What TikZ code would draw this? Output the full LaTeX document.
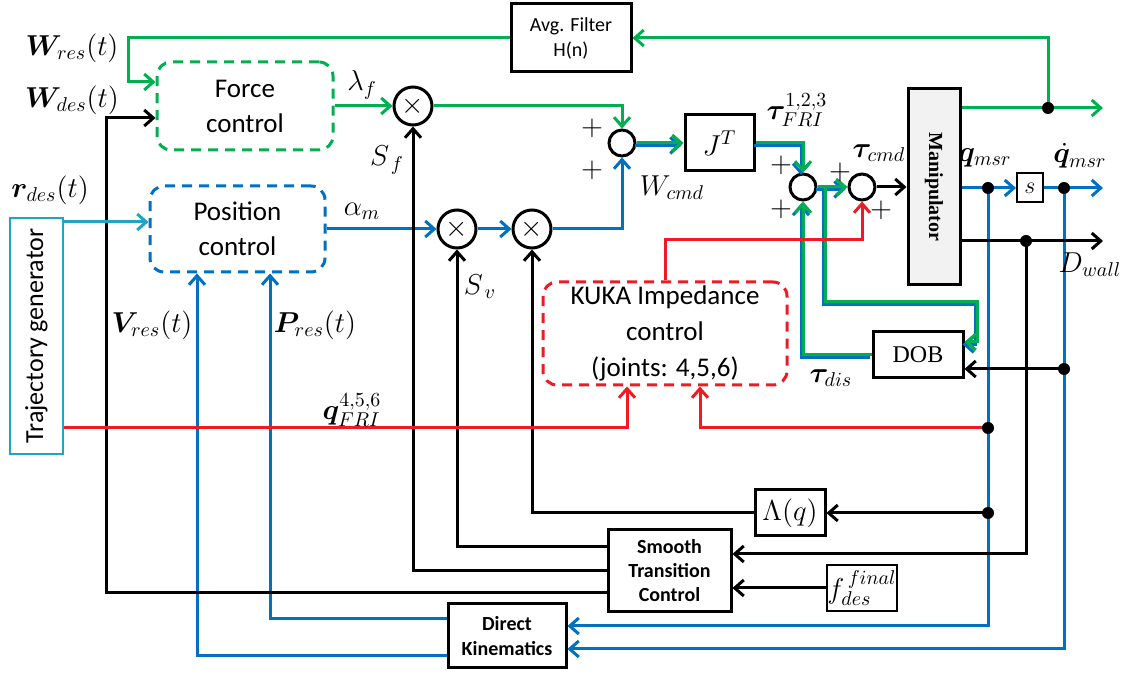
\documentclass[tikz,border=0pt]{standalone}
\usepackage{fontspec}
\setmainfont{Carlito}
\newfontfamily\tnr{Liberation Serif}
\usepackage{bm}
\usetikzlibrary{arrows.meta,calc}
\definecolor{cgreen}{RGB}{0,176,80}
\definecolor{cblue}{RGB}{0,112,192}
\definecolor{cred}{RGB}{237,28,36}
\definecolor{ccyan}{RGB}{30,165,200}
\definecolor{cgray}{RGB}{242,242,242}
\tikzset{
 arr/.style={-{Straight Barb[length=4.5pt,width=8pt]}},
 gline/.style={draw=cgreen,line width=1.5pt},
 bline/.style={draw=cblue,line width=1.5pt},
 rline/.style={draw=cred,line width=1.5pt},
 kline/.style={draw=black,line width=1.5pt},
 cline/.style={draw=ccyan,line width=1.5pt},
 blk/.style={draw,line width=1.5pt,fill=white,inner sep=0pt,align=center},
 thinblk/.style={draw,line width=1pt,fill=white,inner sep=0pt,align=center},
 dbox/.style={draw,line width=1.5pt,dash pattern=on 5pt off 3.5pt,rounded corners=7pt,inner sep=0pt,align=center,font=\fontsize{13.5}{17.5}\selectfont},
 mult/.style={circle,draw,line width=1.5pt,fill=white,minimum size=19pt,inner sep=0pt,font=\fontsize{14.4}{14.4}\selectfont},
 sumn/.style={circle,draw,line width=1.5pt,fill=white,minimum size=13pt,inner sep=0pt},
 jdot/.style={circle,fill,inner sep=0pt,minimum size=6pt},
 lbl/.style={inner sep=0pt,font=\fontsize{14.4}{16}\selectfont},
 plus/.style={inner sep=0pt,font=\fontsize{14.4}{14.4}\selectfont},
 shadowb/.style={transform canvas={xshift=-1pt,yshift=-1.2pt}}
}
\begin{document}
\begin{tikzpicture}[x=0.5pt,y=-0.5pt]
\useasboundingbox (0,0) rectangle (1142,673);
% boxes
\node[blk,minimum width=60pt,minimum height=34pt,font=\fontsize{10}{12.5}\selectfont] (avg) at (571,38) {Avg. Filter\\H(n)};
\node[dbox,draw=cgreen,minimum width=88pt,minimum height=44pt] (force) at (245,106) {Force\\control};
\node[dbox,draw=cblue,minimum width=87.5pt,minimum height=43pt] (pos) at (237.5,229) {Position\\control};
\node[draw=ccyan,line width=1.3pt,minimum width=26.5pt,minimum height=118pt,inner sep=0pt] (tg) at (36.5,336) {};
\node[rotate=90,font=\fontsize{13}{15}\selectfont,inner sep=0pt] at (tg.center) {Trajectory generator};
\node[dbox,draw=cred,minimum width=122pt,minimum height=51.5pt,font=\fontsize{13.5}{18}\selectfont] (kuka) at (665,333.5) {KUKA Impedance\\control\\(joints: 4,5,6)};
\node[mult] (m1) at (413,106) {$\times$};
\node[mult] (m2) at (457,229) {$\times$};
\node[mult] (m3) at (532,229) {$\times$};
\node[sumn] (s1) at (622,143) {};
\node[blk,minimum width=34.5pt,minimum height=28pt,font=\fontsize{14.4}{14.4}\selectfont] (jt) at (719.5,143) {$J^T$};
\node[sumn] (s2) at (803,187) {};
\node[sumn] (s3) at (862,187) {};
\node[draw,line width=1.5pt,fill=cgray,minimum width=26pt,minimum height=98pt,inner sep=0pt] (man) at (934,187) {};
\node[rotate=-90,font=\tnr\bfseries\fontsize{10}{12}\selectfont,inner sep=0pt] at (man.center) {Manipulator};
\node[thinblk,minimum width=13pt,minimum height=14.5pt,font=\fontsize{12}{12}\selectfont] (sbox) at (1030,188) {$s$};
\node[blk,minimum width=45pt,minimum height=23pt,font=\tnr\fontsize{12}{12}\selectfont] (dob) at (918,355) {DOB};
\node[blk,minimum width=35pt,minimum height=23pt,font=\fontsize{14.4}{14.4}\selectfont] (lam) at (790,513) {$\Lambda(q)$};
\node[blk,minimum width=61.5pt,minimum height=41pt,font=\bfseries\fontsize{10}{12}\selectfont] (stc) at (669.5,571) {Smooth\\Transition\\Control};
\node[thinblk,minimum width=33pt,minimum height=23pt,font=\fontsize{14.4}{14.4}\selectfont] (fdes) at (862,588) {$f^{\,final}_{des}$};
\node[blk,minimum width=59pt,minimum height=32pt,font=\bfseries\fontsize{10}{12.5}\selectfont] (dk) at (507,636) {Direct\\Kinematics};
% junction coordinates
\coordinate (j1) at (1048,108);
\coordinate (jq) at (988,188);
\coordinate (jqd) at (1064,188);
\coordinate (jd) at (1026,241);
\coordinate (jr) at (988,428);
\coordinate (jl) at (988,513);
\coordinate (jdob) at (1064,369);
\coordinate (br) at (825,187);
\coordinate (oG) at (1103,108);
\coordinate (oB) at (1103,188);
\coordinate (oK) at (1103,241);
% green paths
\draw[gline,arr] (avg.west) -- (128,38) -- (128,82) -- (force.west |- 0,82);
\draw[gline,arr] (force.east |- m1) -- (m1.west);
\draw[gline,arr] (m1.east) -| (s1.north);
\draw[gline,arr] (man.east |- j1) -- (oG);
\draw[gline,arr] (j1) |- (avg.east);
% blue paths
\draw[bline,arr] (pos.east |- m2) -- (m2.west);
\draw[bline,arr] (m2.east) -- (m3.west);
\draw[bline,arr] (m3.east) -| (s1.south);
\draw[bline,arr] (man.east |- jq) -- (sbox.west);
\draw[bline,arr] (sbox.east) -- (oB);
\draw[bline,arr] (jq) |- (dk.east |- 0,626);
\draw[bline,arr] (jqd) |- (dk.east |- 0,649);
\draw[bline,arr] (dk.west |- 0,619) -| (pos.south -| 270,0);
\draw[bline,arr] (dk.west |- 0,656) -| (pos.south -| 197,0);
% green/blue double paths
\draw[bline,arr,shadowb] (s1.east) -- (jt.west);
\draw[gline,arr] (s1.east) -- (jt.west);
\draw[bline,arr,shadowb] (jt.east) -| (s2.north);
\draw[gline,arr] (jt.east) -| (s2.north);
\draw[bline,arr,shadowb] (s2.east) -- (s3.west);
\draw[gline,arr] (s2.east) -- (s3.west);
\draw[bline,arr,shadowb] (br) -- (825,302) -- (977,302) -- (977,342) -- (dob.east |- 0,342);
\draw[gline,arr] (br) -- (825,302) -- (977,302) -- (977,342) -- (dob.east |- 0,342);
\draw[bline,arr,shadowb] (dob.west) -| (s2.south);
\draw[gline,arr] (dob.west) -| (s2.south);
% black paths
\draw[kline,arr] (s3.east) -- (man.west |- s3);
\draw[kline,arr] (man.east |- jd) -- (oK);
\draw[kline,arr] (jd) |- (stc.east |- 0,554);
\draw[kline,arr] (jdob) -- (dob.east |- jdob);
\draw[kline,arr] (jl) -- (lam.east);
\draw[kline,arr] (lam.west) -| (m3.south);
\draw[kline,arr] (stc.west |- 0,547) -| (m2.south);
\draw[kline,arr] (stc.west) -| (m1.south);
\draw[kline,arr] (stc.west |- 0,593) -- (106,593) -- (106,118) -- (force.west |- 0,118);
\draw[kline,arr] (fdes.west) -- (stc.east |- fdes);
% red paths
\draw[rline,arr] (jr) -| (kuka.south -| 700,0);
\draw[rline,arr] (tg.east |- 0,428) -| (kuka.south -| 627,0);
\draw[rline,arr] (kuka.north) -- (665,240) -| (s3.south);
% cyan
\draw[cline,arr] (tg.east |- 0,222) -- (pos.west |- 0,222);
% dots
\foreach \p in {j1,jq,jqd,jd,jr,jl,jdob} \node[jdot] at (\p) {};
% labels
\node[lbl] at (72,48) {$\bm{W}_{res}(t)$};
\node[lbl] at (72,100) {$\bm{W}_{des}(t)$};
\node[lbl] at (50,190) {$\bm{r}_{des}(t)$};
\node[lbl] at (362,85) {$\lambda_f$};
\node[lbl] at (387,160) {$S_{\,f}$};
\node[lbl] at (362,211) {$\alpha_m$};
\node[lbl] at (480,287) {$S_{\,v}$};
\node[plus] at (592,128) {$+$};
\node[plus] at (592,170) {$+$};
\node[lbl] at (672,188) {$W_{cmd}$};
\node[lbl] at (797,110) {$\bm{\tau}^{1,2,3}_{FRI}$};
\node[plus] at (781,165) {$+$};
\node[plus] at (781,209) {$+$};
\node[plus] at (840,172) {$+$};
\node[plus] at (881,210) {$+$};
\node[lbl] at (879,153) {$\bm{\tau}_{cmd}$};
\node[lbl] at (985,158) {$\bm{q}_{msr}$};
\node[lbl] at (1080,156) {$\dot{\bm{q}}_{msr}$};
\node[lbl] at (1090,265) {$D_{wall}$};
\node[lbl] at (831,378) {$\bm{\tau}_{dis}$};
\node[lbl] at (152,325) {$\bm{V}_{res}(t)$};
\node[lbl] at (315,325) {$\bm{P}_{res}(t)$};
\node[lbl] at (352,410) {$\bm{q}^{4,5,6}_{FRI}$};
\end{tikzpicture}
\end{document}
